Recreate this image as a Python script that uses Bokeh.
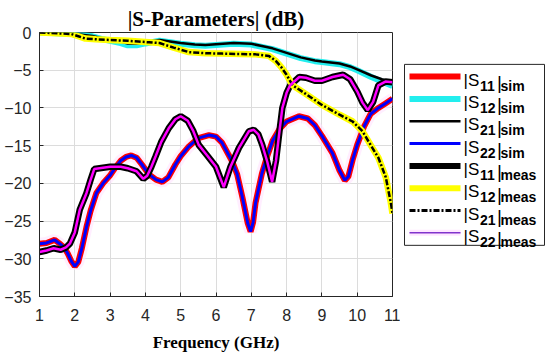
from bokeh.plotting import figure
from bokeh.models import Range1d, FixedTicker
from bokeh.layouts import row
from bokeh.embed import file_html
from bokeh.resources import INLINE
from bokeh.core.properties import value

# ---------------- data ----------------
freq_sim = [1.0, 1.2, 1.43, 1.6, 1.7, 1.8, 1.9, 2.0, 2.1, 2.2, 2.33, 2.45, 2.61, 2.8, 2.99,
            3.15, 3.3, 3.45, 3.6, 3.75, 3.9, 4.1, 4.3, 4.48, 4.65, 4.85, 5.0, 5.23, 5.5,
            5.8, 6.0, 6.17, 6.46, 6.6, 6.75, 6.9, 6.98, 7.05, 7.12, 7.3, 7.45, 7.6, 7.8,
            8.0, 8.35, 8.6, 8.8, 9.0, 9.3, 9.5, 9.65, 9.75, 9.87, 10.0, 10.2, 10.38,
            10.6, 10.8, 11.0]
s11_sim = [-28.0, -27.9, -27.5, -28.1, -28.5, -29.3, -30.3, -31.0, -30.4, -28.6, -25.8,
           -23.6, -21.3, -20.0, -19.0, -17.9, -17.0, -16.5, -16.3, -16.6, -17.5, -18.8,
           -19.5, -19.8, -19.2, -17.5, -16.4, -15.1, -14.0, -13.6, -13.8, -14.6, -17.1,
           -18.8, -21.9, -25.3, -26.4, -25.2, -22.6, -18.7, -16.4, -14.4, -12.8, -11.8,
           -11.1, -11.4, -12.3, -13.7, -16.0, -18.3, -19.6, -19.1, -16.9, -14.9, -12.4,
           -10.8, -10.0, -9.4, -8.8]
s22_sim = list(s11_sim)

freq_tx_sim = [1.0, 1.5, 1.9, 2.2, 2.5, 2.8, 3.0, 3.3, 3.5, 3.75, 4.0, 4.4, 4.7, 5.0, 5.4,
               5.7, 6.0, 6.5, 7.0, 7.3, 7.6, 8.0, 8.4, 8.8, 9.0, 9.5, 9.8, 10.0, 10.4,
               10.7, 11.0]
s12_sim = [0.0, -0.1, -0.2, -0.3, -0.5, -0.9, -1.1, -1.4, -1.7, -1.7, -1.45, -1.1, -1.3,
           -1.5, -1.7, -1.75, -1.65, -1.5, -1.6, -1.9, -2.2, -2.8, -3.4, -3.8, -3.9, -4.2,
           -4.6, -5.0, -5.9, -6.5, -7.1]
s21_sim = [0.0, -0.1, -0.2, -0.3, -0.45, -0.8, -1.0, -1.2, -1.45, -1.5, -1.3, -1.0, -1.2,
           -1.4, -1.6, -1.65, -1.55, -1.4, -1.5, -1.8, -2.1, -2.7, -3.3, -3.7, -3.85, -4.1,
           -4.5, -4.9, -5.7, -6.2, -6.6]

freq_meas = [1.0, 1.2, 1.4, 1.5, 1.6, 1.75, 1.86, 2.0, 2.14, 2.33, 2.45, 2.55, 2.7, 2.85,
             3.0, 3.3, 3.5, 3.75, 3.94, 4.05, 4.17, 4.29, 4.45, 4.66, 4.85, 5.0, 5.2,
             5.35, 5.51, 5.75, 6.0, 6.22, 6.41, 6.65, 6.93, 7.07, 7.2, 7.31, 7.45, 7.59,
             7.7, 7.8, 7.88, 8.0, 8.1, 8.36, 8.55, 8.8, 9.0, 9.3, 9.6, 9.8, 10.0, 10.15,
             10.3, 10.45, 10.6, 10.8, 11.0]
s11_meas = [-29.1, -28.9, -28.6, -28.7, -28.8, -28.5, -28.0, -26.5, -23.5, -21.3, -19.5,
            -18.1, -18.0, -17.9, -17.8, -17.8, -18.0, -18.4, -19.4, -19.0, -17.8, -16.4,
            -14.5, -12.7, -11.5, -11.1, -11.7, -13.0, -14.9, -16.3, -17.8, -20.5, -17.8,
            -15.3, -13.1, -12.9, -13.5, -14.9, -17.1, -19.8, -17.0, -13.0, -10.0, -8.0,
            -7.0, -5.9, -6.0, -6.4, -6.4, -5.9, -5.6, -6.2, -7.8, -9.3, -10.3, -9.2, -7.0,
            -6.5, -6.6]
s22_meas = list(s11_meas)

freq_tx_meas = [1.0, 1.5, 1.9, 2.1, 2.3, 2.6, 3.0, 3.5, 3.8, 4.1, 4.4, 4.8, 5.23, 5.7,
                6.18, 6.7, 7.12, 7.5, 7.7, 7.85, 8.0, 8.17, 8.53, 9.0, 9.5, 9.87, 10.15,
                10.43, 10.6, 10.81, 10.95, 11.0]
s12_meas = [0.0, -0.1, -0.2, -0.5, -0.8, -0.9, -1.0, -1.1, -1.2, -1.3, -1.4, -2.0, -2.6,
            -2.75, -2.8, -2.85, -2.9, -3.1, -3.8, -4.6, -5.6, -7.0, -8.1, -9.6, -10.9,
            -11.8, -13.1, -15.3, -16.6, -19.2, -22.5, -24.0]
s21_meas = list(s12_meas)

x_ticks = list(range(1, 12))
y_ticks = list(range(-35, 1, 5))

legend_subs = [("11", "sim"), ("12", "sim"), ("21", "sim"), ("22", "sim"),
               ("11", "meas"), ("12", "meas"), ("21", "meas"), ("22", "meas")]

# ---------------- main plot ----------------
TXT = "#262626"
p = figure(width=400, height=356, output_backend="svg", toolbar_location=None,
           x_range=Range1d(1, 11), y_range=Range1d(-35, 0),
           min_border_left=39, min_border_right=8, min_border_top=32,
           min_border_bottom=60, background_fill_color="white")
p.title.text = "|S-Parameters| (dB)"
p.title.align = "center"
p.title.text_font = "Liberation Serif"
p.title.text_font_size = "21px"
p.title.text_font_style = "bold"
p.title.text_color = "#000000"
p.title.standoff = 3

p.outline_line_color = TXT
p.outline_line_alpha = 1.0
p.outline_line_width = 1

for ax in (p.xaxis, p.yaxis):
    ax.major_tick_in = 4
    ax.major_tick_out = 0
    ax.minor_tick_line_color = None
    ax.axis_line_color = TXT
    ax.major_tick_line_color = TXT
    ax.major_label_text_font = "Liberation Sans"
    ax.major_label_text_font_size = "16px"
    ax.major_label_text_color = TXT

p.xaxis.ticker = FixedTicker(ticks=x_ticks)
p.yaxis.ticker = FixedTicker(ticks=y_ticks)
p.xaxis.major_label_standoff = 12
p.yaxis.major_label_standoff = 8
p.xaxis.axis_label = "Frequency (GHz)"
p.xaxis.axis_label_text_font = "Liberation Serif"
p.xaxis.axis_label_text_font_style = "bold"
p.xaxis.axis_label_text_font_size = "17px"
p.xaxis.axis_label_text_color = "#000000"
p.xaxis.axis_label_standoff = 9

p.xgrid.grid_line_color = "#dcdcdc"
p.ygrid.grid_line_color = "#dcdcdc"

# faint halo visible around the simulated reflection curves
p.line(freq_sim, s22_sim, line_color="#ffe2ff", line_width=12, line_alpha=0.6)
p.line(freq_sim, s11_sim, line_color="#ff0000", line_width=6)
p.line(freq_tx_sim, s12_sim, line_color="#22eeee", line_width=6)
p.line(freq_tx_sim, s21_sim, line_color="#000000", line_width=2.5)
p.line(freq_sim, s22_sim, line_color="#0000ff", line_width=3)
p.line(freq_meas, s11_meas, line_color="#000000", line_width=6.5)
p.line(freq_tx_meas, s12_meas, line_color="#ffff00", line_width=6.5)
p.line(freq_tx_meas, s21_meas, line_color="#000000", line_width=2.5, line_dash="6 2 2 2")
p.line(freq_meas, s22_meas, line_color="#ff00ff", line_width=2.5)

# ---------------- legend (separate panel) ----------------
LW, LH = 148, 356
leg = figure(width=LW, height=LH, output_backend="svg", toolbar_location=None,
             x_range=Range1d(0, LW), y_range=Range1d(LH, 0),
             min_border=0, min_border_left=0, min_border_right=0,
             min_border_top=0, min_border_bottom=0)
leg.axis.visible = False
leg.grid.visible = False
leg.outline_line_color = None

# legend box: page x 404..544, page y 43..287 (panel starts at page x 400)
leg.quad(left=[4], right=[144], top=[43], bottom=[287],
         fill_color="white", line_color=TXT, line_width=1)

ys = [59.5 + 30.1 * i for i in range(len(legend_subs))]
x0, x1 = 9, 60
styles = [
    [dict(line_color="#ff0000", line_width=6)],
    [dict(line_color="#22eeee", line_width=6)],
    [dict(line_color="#000000", line_width=2.5)],
    [dict(line_color="#0000ff", line_width=3)],
    [dict(line_color="#000000", line_width=6)],
    [dict(line_color="#ffff00", line_width=6)],
    [dict(line_color="#000000", line_width=3, line_dash="6 2 2 2")],
    [dict(line_color="#ffe6ff", line_width=6), dict(line_color="#8033cc", line_width=1.5)],
]
for y, st in zip(ys, styles):
    for s in st:
        leg.line([x0, x1], [y, y], **s)

leg.text(x=[63] * len(ys), y=[y + 5 for y in ys], text=["|S"] * len(ys),
         text_font=value("Liberation Sans"), text_font_size="17px",
         text_baseline="alphabetic", text_align="left", text_color="#000000")
leg.text(x=[79.5] * len(ys), y=[y + 12.4 for y in ys], text=[a for a, b in legend_subs],
         text_font=value("Liberation Sans"), text_font_size="14px", text_font_style="bold",
         text_baseline="alphabetic", text_align="left", text_color="#000000")
leg.text(x=[96.5] * len(ys), y=[y + 8 for y in ys], text=["|"] * len(ys),
         text_font=value("Liberation Sans"), text_font_size="19px",
         text_baseline="alphabetic", text_align="left", text_color="#000000")
leg.text(x=[100] * len(ys), y=[y + 12.4 for y in ys], text=[b for a, b in legend_subs],
         text_font=value("Liberation Sans"), text_font_size="14px", text_font_style="bold",
         text_baseline="alphabetic", text_align="left", text_color="#000000")

layout = row(p, leg)
open("out.html", "w").write(file_html(layout, INLINE))
